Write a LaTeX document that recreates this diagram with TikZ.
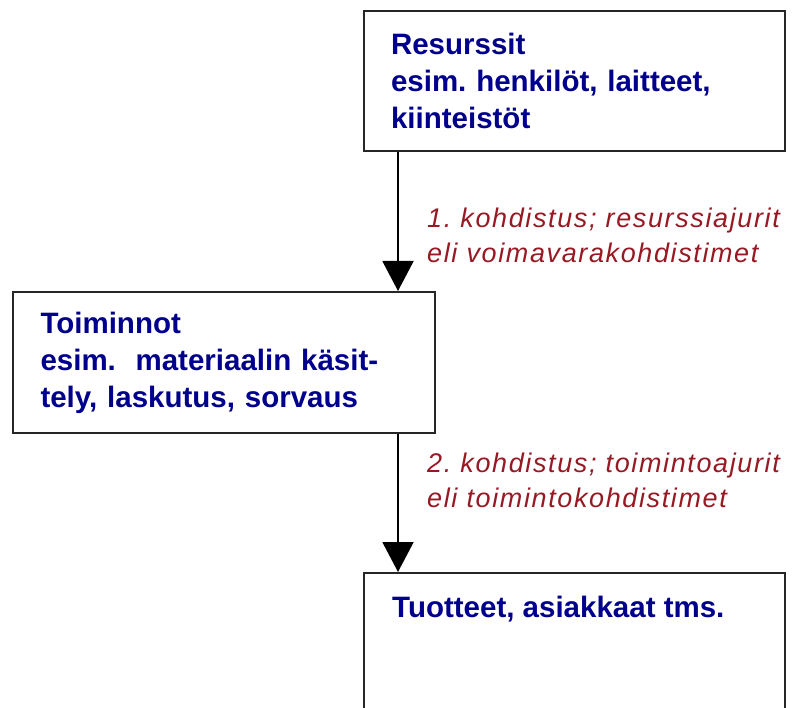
\documentclass[tikz,border=0pt]{standalone}
\usepackage{fontspec}
\setmainfont{Liberation Sans}
\newfontfamily\lblfont[LetterSpace=6]{Liberation Sans}
\usetikzlibrary{positioning}
\usetikzlibrary{arrows.meta}
\definecolor{boxblue}{RGB}{0,0,140}
\definecolor{lblred}{RGB}{150,25,35}
\frenchspacing

\begin{document}
\begin{tikzpicture}[x=1pt,y=-1pt,
        box/.style={draw=black!85,line width=2pt,rectangle,anchor=north west,
            minimum width=421pt,inner xsep=27pt,align=left,text width=367pt,
            font=\fontsize{29.5}{37}\selectfont\bfseries,text=boxblue},
        lbl/.style={anchor=west,align=left,inner sep=0pt,text=lblred,
            font=\lblfont\itshape\fontsize{27}{35}\selectfont},
        arr/.style={line width=2pt,-{Triangle[length=30pt,width=31pt]}}]
        \useasboundingbox (0,0) rectangle (793,708);
        \clip (0,0) rectangle (793,708);
        % Boxes
        \node[box,minimum height=140pt] (res) at (363,10)
            {Resurssit\\esim. henkilöt, laitteet,\\kiinteistöt};
        \node[box,minimum width=422pt,minimum height=141pt] (act) at (12,291)
            {Toiminnot\\esim.\ \ materiaalin käsit-\\tely, laskutus, sorvaus};
        \node[box,minimum height=200pt] (prod) at (363,572) {};
        \node[anchor=north west,inner sep=0pt,text=boxblue,
            font=\fontsize{29.5}{37}\selectfont\bfseries] (prodtxt) at (392,596)
            {Tuotteet, asiakkaat tms.};
        % Arrows
        \draw[arr] ([xshift=35pt]res.south west) -- ([xshift=35pt]res.south west |- act.north);
        \draw[arr] ([xshift=-38pt]act.south east) -- ([xshift=-38pt]act.south east |- prod.north);
        % Labels
        \node[lbl] (lbl1) at (427,235) {1. kohdistus; resurssiajurit\\eli voimavarakohdistimet};
        \node[lbl] (lbl2) at (427,480) {2. kohdistus; toimintoajurit\\eli toimintokohdistimet};
    \end{tikzpicture}
\end{document}
